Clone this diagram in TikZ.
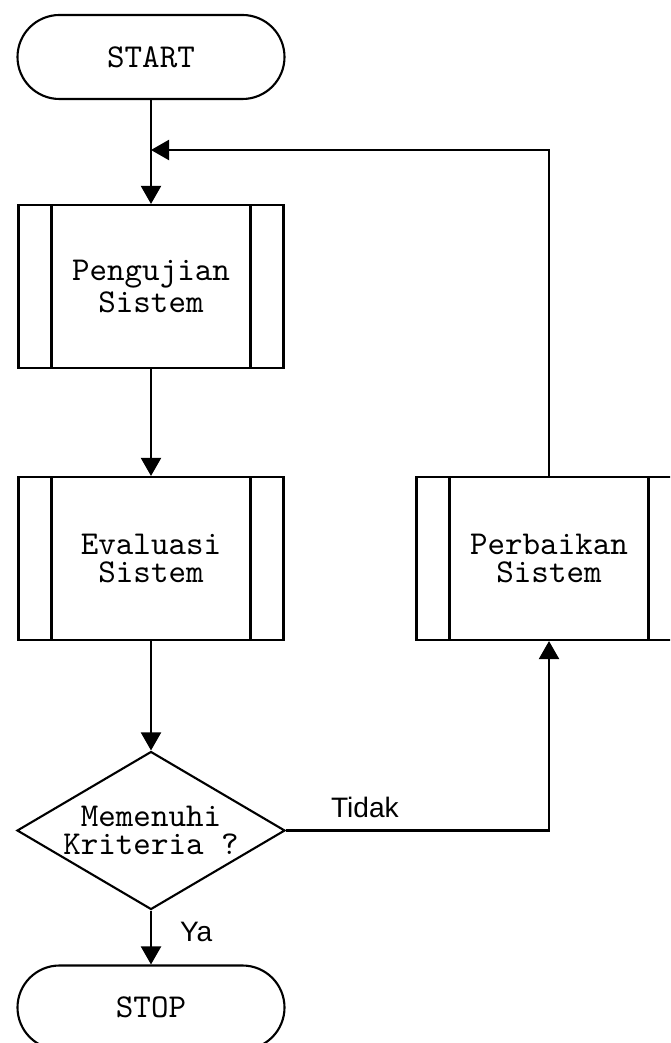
\documentclass[tikz,border=0pt]{standalone}
\usepackage{fontspec}
\setmainfont{Liberation Sans}
\usepackage{tikz}
\usetikzlibrary{shapes.geometric, arrows.meta}
\tikzstyle{startstop} = [rectangle, rounded corners=0.42cm, minimum width=2.67cm, minimum height=0.84cm, text centered, draw=black, semithick, font=\ttfamily\fontsize{9.5}{8}\selectfont]
\tikzstyle{process} = [rectangle, minimum width=2.65cm, minimum height=1.63cm, text centered, align=center, draw=black, semithick, font=\ttfamily\fontsize{9.5}{8}\selectfont,
  path picture={\draw [semithick] ([xshift=0.33cm]path picture bounding box.north west) -- ([xshift=0.33cm]path picture bounding box.south west);
                \draw [semithick] ([xshift=-0.33cm]path picture bounding box.north east) -- ([xshift=-0.33cm]path picture bounding box.south east);}]
\tikzstyle{decision} = [diamond, aspect=1.7, inner sep=0pt, minimum width=2.68cm, minimum height=1.58cm, text centered, align=center, draw=black, semithick, font=\ttfamily\fontsize{9.5}{8}\selectfont]
\tikzstyle{arrow} = [semithick, -{Triangle[length=0.18cm, width=0.2cm]}]
\tikzstyle{answer} = [font=\fontsize{8}{9}\selectfont, inner sep=0pt]

\begin{document}
\begin{tikzpicture}[node distance=2.72cm]
\clip (0,0) rectangle (6.7,-10.43);
\node (start) [startstop] at (1.51,-0.57) {START};
\coordinate [below of=start, yshift=1.79cm] (join);
\node (pro1) [process, below of=start, yshift=0.425cm] {Pengujian\\Sistem};
\node (pro2) [process, below of=pro1] {Evaluasi\\Sistem};
\node (dec1) [decision, below of=pro2] {Memenuhi\\Kriteria ?};
\node (stop) [startstop, below of=dec1, yshift=0.95cm] {STOP};
\node (pro3) [process, right of=pro2, xshift=1.26cm] {Perbaikan\\Sistem};

\draw [arrow] (start) -- (pro1);
\draw [arrow] (pro1) -- (pro2);
\draw [arrow] (pro2) -- (dec1);
\draw [arrow] (dec1) -- node [answer, pos=0.39, anchor=west, xshift=0.28cm] {Ya} (stop);
\draw [arrow] (dec1) -| node [answer, pos=0.15, anchor=base, yshift=0.13cm] {Tidak} (pro3);
\draw [arrow] (pro3) |- (join);
\end{tikzpicture}
\end{document}
